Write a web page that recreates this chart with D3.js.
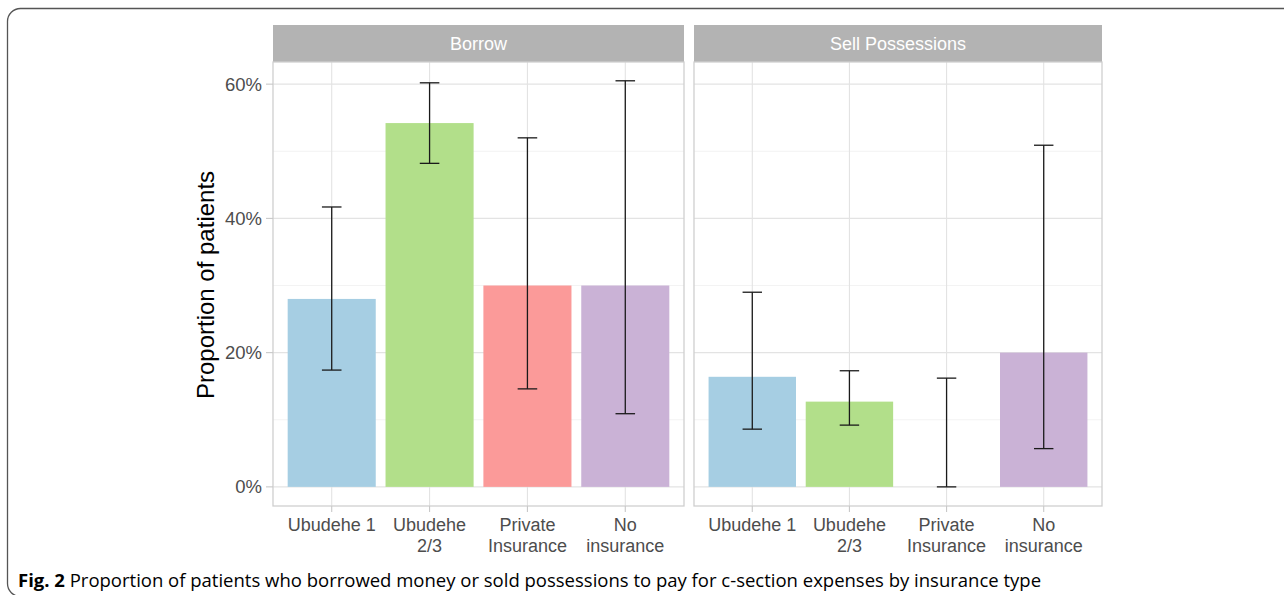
<!DOCTYPE html>
<html>
<head>
<meta charset="utf-8">
<script src="https://cdn.jsdelivr.net/npm/d3@7"></script>
<style>
  body { margin: 0; background: #fff; }
  svg { display: block; }
</style>
</head>
<body>
<div class="chart"></div>
<script>
const W = 1284, H = 595;

// data
const categories = ["Ubudehe 1", "Ubudehe 2/3", "Private Insurance", "No insurance"];
const categoryLines = [["Ubudehe 1"], ["Ubudehe", "2/3"], ["Private", "Insurance"], ["No", "insurance"]];
const panels = ["Borrow", "Sell Possessions"];
const borrowValues = [28.0, 54.2, 30.0, 30.0];
const borrowLow = [17.4, 48.2, 14.6, 10.9];
const borrowHigh = [41.7, 60.2, 52.0, 60.5];
const sellValues = [16.4, 12.7, 0, 20.0];
const sellLow = [8.6, 9.2, 0, 5.7];
const sellHigh = [29.0, 17.3, 16.2, 50.9];
const yTicks = [0, 20, 40, 60];
const yMinor = [10, 30, 50];
const colors = ["#a6cee3", "#b2df8a", "#fb9a99", "#cab2d6"];

const panelData = [
  { name: panels[0], values: borrowValues, low: borrowLow, high: borrowHigh },
  { name: panels[1], values: sellValues, low: sellLow, high: sellHigh }
];

const svg = d3.select(".chart").append("svg")
  .attr("width", W).attr("height", H);

// outer figure frame
svg.append("rect")
  .attr("x", 7.5).attr("y", 8.5)
  .attr("width", 1300).attr("height", 588)
  .attr("rx", 13)
  .attr("fill", "none")
  .attr("stroke", "#555")
  .attr("stroke-width", 1.3);

const plotTop = 62, plotBottom = 506, stripTop = 25;
const panelX = [[273, 684], [694, 1102]];

const y = d3.scaleLinear()
  .domain([-2.85, 63.3])
  .range([plotBottom, plotTop]);

const font = "'Liberation Sans', Arial, sans-serif";

panelData.forEach((p, pi) => {
  const [x0, x1] = panelX[pi];
  // ggplot discrete expansion: 0.6 each side -> 4.2 units
  const x = d3.scaleLinear()
    .domain([0.4, categories.length + 0.6])
    .range([x0, x1]);
  const unit = x(1) - x(0);
  const cx = (c) => x(categories.indexOf(c) + 1);

  const g = svg.append("g");

  // strip
  g.append("rect")
    .attr("x", x0).attr("y", stripTop)
    .attr("width", x1 - x0).attr("height", plotTop - stripTop)
    .attr("fill", "#b3b3b3");
  g.append("text")
    .attr("x", (x0 + x1) / 2).attr("y", (stripTop + plotTop) / 2 + 6.5)
    .attr("text-anchor", "middle")
    .attr("fill", "#fff")
    .style("font-family", font).style("font-size", "18px")
    .text(p.name);

  // grid
  g.selectAll(".minor").data(yMinor).join("line")
    .attr("x1", x0).attr("x2", x1)
    .attr("y1", d => y(d)).attr("y2", d => y(d))
    .attr("stroke", "#f0f0f0").attr("stroke-width", 0.8);
  g.selectAll(".major").data(yTicks).join("line")
    .attr("x1", x0).attr("x2", x1)
    .attr("y1", d => y(d)).attr("y2", d => y(d))
    .attr("stroke", "#e3e3e3").attr("stroke-width", 1.1);
  g.selectAll(".vgrid").data(categories).join("line")
    .attr("x1", d => cx(d)).attr("x2", d => cx(d))
    .attr("y1", plotTop).attr("y2", plotBottom)
    .attr("stroke", "#e3e3e3").attr("stroke-width", 1.1);

  // bars
  const bw = unit * 0.9;
  g.selectAll(".bar").data(p.values).join("rect")
    .attr("x", (d, i) => cx(categories[i]) - bw / 2)
    .attr("y", d => y(d))
    .attr("width", bw)
    .attr("height", d => y(0) - y(d))
    .attr("fill", (d, i) => colors[i]);

  // error bars
  const ew = unit * 0.2;
  const eb = g.selectAll(".err").data(categories).join("g")
    .attr("stroke", "#1a1a1a").attr("stroke-width", 1.3).attr("fill", "none");
  eb.append("line")
    .attr("x1", d => cx(d)).attr("x2", d => cx(d))
    .attr("y1", (d, i) => y(p.low[i])).attr("y2", (d, i) => y(p.high[i]));
  eb.append("line")
    .attr("x1", d => cx(d) - ew / 2).attr("x2", d => cx(d) + ew / 2)
    .attr("y1", (d, i) => y(p.low[i])).attr("y2", (d, i) => y(p.low[i]));
  eb.append("line")
    .attr("x1", d => cx(d) - ew / 2).attr("x2", d => cx(d) + ew / 2)
    .attr("y1", (d, i) => y(p.high[i])).attr("y2", (d, i) => y(p.high[i]));

  // panel border
  g.append("rect")
    .attr("x", x0).attr("y", plotTop)
    .attr("width", x1 - x0).attr("height", plotBottom - plotTop)
    .attr("fill", "none").attr("stroke", "#cfcfcf").attr("stroke-width", 1.3);

  // x ticks + labels
  g.selectAll(".xtick").data(categories).join("line")
    .attr("x1", d => cx(d)).attr("x2", d => cx(d))
    .attr("y1", plotBottom).attr("y2", plotBottom + 6)
    .attr("stroke", "#c8c8c8").attr("stroke-width", 1.1);
  const lbl = g.selectAll(".xlab").data(categories).join("text")
    .attr("text-anchor", "middle")
    .attr("fill", "#4d4d4d")
    .style("font-family", font).style("font-size", "18px");
  lbl.selectAll("tspan").data((d, i) => categoryLines[i].map(t => ({ t, c: d })))
    .join("tspan")
    .attr("x", d => cx(d.c))
    .attr("y", (d, i) => 530.5 + i * 21)
    .text(d => d.t);
});

// y axis (left panel only)
const ya = svg.append("g");
ya.selectAll("line").data(yTicks).join("line")
  .attr("x1", 266).attr("x2", 273)
  .attr("y1", d => y(d)).attr("y2", d => y(d))
  .attr("stroke", "#c8c8c8").attr("stroke-width", 1.1);
ya.selectAll("text").data(yTicks).join("text")
  .attr("x", 262).attr("y", d => y(d) + 6.5)
  .attr("text-anchor", "end")
  .attr("fill", "#4d4d4d")
  .style("font-family", font).style("font-size", "18.5px")
  .text(d => d + "%");

svg.append("text")
  .attr("transform", `translate(214, ${285}) rotate(-90)`)
  .attr("text-anchor", "middle")
  .attr("fill", "#000")
  .style("font-family", font).style("font-size", "24px")
  .text("Proportion of patients");

// caption
const cap = svg.append("text")
  .attr("x", 18).attr("y", 587)
  .attr("fill", "#000")
  .style("font-family", "'Open Sans', 'Noto Sans', sans-serif")
  .style("font-size", "18.5px");
cap.append("tspan").attr("font-weight", "bold").text("Fig. 2");
cap.append("tspan").text(" Proportion of patients who borrowed money or sold possessions to pay for c-section expenses by insurance type");
</script>
</body>
</html>
